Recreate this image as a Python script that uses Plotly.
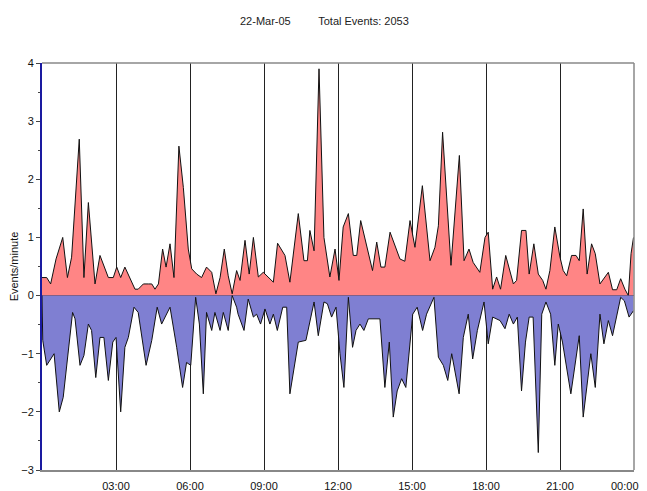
import plotly.graph_objects as go

# ---- data (hours since midnight, events/minute) ----
pos_hours = [0.0, 0.19, 0.35, 0.57, 0.84, 1.03, 1.20, 1.51, 1.70, 1.88, 2.15, 2.35, 2.69, 2.89,
             3.03, 3.19, 3.36, 3.57, 3.77, 3.90, 4.11, 4.31, 4.45, 4.58, 4.72, 4.89, 5.03, 5.19,
             5.35, 5.55, 5.73, 5.93, 6.07, 6.27, 6.47, 6.67, 6.88, 7.05, 7.22, 7.39, 7.55, 7.71,
             7.89, 8.03, 8.23, 8.40, 8.57, 8.77, 8.97, 9.38, 9.55, 9.85, 10.05, 10.39, 10.62,
             10.76, 10.86, 11.03, 11.23, 11.43, 11.67, 11.88, 12.04, 12.21, 12.42, 12.62, 12.76,
             12.92, 13.40, 13.57, 13.74, 13.90, 14.11, 14.51, 14.71, 14.92, 15.12, 15.42, 15.73,
             15.93, 16.07, 16.24, 16.58, 16.92, 17.11, 17.31, 17.48, 17.75, 17.96, 18.09, 18.27,
             18.43, 18.59, 18.80, 19.11, 19.24, 19.44, 19.62, 19.75, 19.94, 20.12, 20.30, 20.43,
             20.59, 20.79, 21.00, 21.13, 21.27, 21.47, 21.65, 21.78, 21.94, 22.10, 22.28, 22.43,
             22.62, 22.96, 23.13, 23.30, 23.46, 23.63, 23.77, 23.88, 23.98]
pos_values = [0.31, 0.31, 0.2, 0.63, 1.0, 0.31, 0.66, 2.69, 0.31, 1.6, 0.2, 0.69, 0.31, 0.31,
              0.49, 0.31, 0.49, 0.29, 0.11, 0.11, 0.2, 0.2, 0.2, 0.11, 0.2, 0.8, 0.49, 0.89,
              0.31, 2.57, 1.86, 0.8, 0.46, 0.37, 0.31, 0.49, 0.4, 0.03, 0.31, 0.8, 0.34, 0.03,
              0.43, 0.26, 0.95, 0.37, 1.0, 0.32, 0.40, 0.23, 0.9, 0.69, 0.23, 1.41, 0.60,
              0.6, 1.12, 0.77, 3.9, 1.0, 0.32, 0.8, 0.26, 1.18, 1.41, 0.69, 0.69,
              1.29, 0.43, 0.92, 0.49, 0.49, 1.09, 0.63, 0.59, 1.29, 0.83, 1.89, 0.60,
              0.83, 1.2, 2.81, 0.52, 2.41, 0.60, 0.80, 0.57, 0.40, 1.0, 1.09, 0.11,
              0.32, 0.11, 0.69, 0.20, 0.26, 1.12, 1.12, 0.37, 0.89, 0.37, 0.26, 0.11,
              0.43, 1.18, 0.66, 0.43, 0.34, 0.69, 0.69, 0.60, 1.49, 0.37, 0.89, 0.72,
              0.20, 0.40, 0.10, 0.10, 0.29, 0.11, 0.0, 0.72, 1.0]

neg_hours = [0.0, 0.03, 0.19, 0.49, 0.70, 0.86, 1.24, 1.34, 1.54, 1.70, 1.88, 2.01, 2.18, 2.35,
             2.51, 2.69, 2.87, 3.00, 3.19, 3.36, 3.50, 3.73, 3.90, 4.22, 4.45, 4.67, 4.85, 5.19,
             5.46, 5.70, 5.86, 6.03, 6.23, 6.38, 6.54, 6.67, 6.88, 7.01, 7.22, 7.35, 7.55, 7.71,
             7.89, 7.95, 8.19, 8.36, 8.57, 8.70, 8.86, 9.04, 9.24, 9.38, 9.54, 9.76, 9.92, 10.05,
             10.39, 10.70, 11.03, 11.20, 11.43, 11.57, 11.74, 11.92, 12.08, 12.24, 12.42, 12.59,
             12.73, 12.89, 13.05, 13.23, 13.70, 13.90, 14.08, 14.24, 14.40, 14.58, 14.75, 15.03,
             15.21, 15.43, 15.59, 15.89, 16.07, 16.27, 16.45, 16.61, 16.91, 17.08, 17.28, 17.46,
             17.65, 17.92, 18.09, 18.27, 18.57, 18.77, 18.94, 19.11, 19.27, 19.44, 19.60, 19.75,
             19.91, 20.08, 20.12, 20.26, 20.43, 20.62, 20.79, 20.93, 21.10, 21.44, 21.78, 21.94,
             22.25, 22.43, 22.62, 22.78, 22.96, 23.13, 23.46, 23.61, 23.80, 23.98]
neg_values = [0.0, -0.77, -1.2, -1.0, -2.0, -1.75, -0.29, -0.4, -1.2, -1.03, -0.49, -0.6, -1.41, -0.72,
              -0.72, -1.46, -0.80, -0.72, -2.0, -0.89, -0.72, -0.2, -0.29, -1.2, -0.77, -0.2, -0.49, -0.2,
              -0.89, -1.58, -1.15, -1.2, -0.03, -0.49, -1.69, -0.29, -0.6, -0.29, -0.6, -0.29, -0.6, 0.0,
              -0.2, -0.32, -0.6, -0.06, -0.37, -0.32, -0.49, -0.23, -0.49, -0.32, -0.6, -0.2, -0.2, -1.69,
              -0.80, -0.77, -0.11, -0.69, -0.11, -0.14, -0.37, -0.2, -1.0, -1.58, -0.03, -0.89,
              -0.6, -0.49, -0.6, -0.4, -0.4, -1.58, -0.80, -2.09, -1.64, -1.43, -1.58, -0.32,
              -0.2, -0.6, -0.32, -0.03, -1.06, -1.2, -1.46, -1.0, -1.69, -0.72, -0.32, -1.09,
              -0.6, -0.11, -0.83, -0.37, -0.43, -0.57, -0.32, -0.49, -0.37, -1.64, -0.8, -0.37,
              -0.37, -2.47, -2.7, -0.32, -0.11, -0.32, -1.2, -0.49, -0.8, -1.69, -0.69, -2.09,
              -1.0, -1.58, -0.32, -0.83, -0.43, -0.69, -0.03, -0.09, -0.37, -0.26]

tick_hours = [3, 6, 9, 12, 15, 18, 21, 24]
tick_labels = ["03:00", "06:00", "09:00", "12:00", "15:00", "18:00", "21:00", "00:00"]
y_ticks = [-3, -2, -1, 0, 1, 2, 3, 4]

FONT = "Liberation Sans, Arial, sans-serif"

fig = go.Figure()
fig.add_trace(go.Scatter(x=pos_hours, y=pos_values, mode="lines", fill="tozeroy",
                         fillcolor="#FF8585", line=dict(color="#111111", width=1),
                         hoverinfo="skip", showlegend=False))
fig.add_trace(go.Scatter(x=neg_hours, y=neg_values, mode="lines", fill="tozeroy",
                         fillcolor="#7F7FD2", line=dict(color="#111111", width=1),
                         hoverinfo="skip", showlegend=False))

# the last tick label sits at the very right edge: draw it right-anchored so it stays visible
axis_ticktext = tick_labels[:-1] + [""]

# page body has an 8px margin: figure is offset by (8, 8)
fig.update_layout(
    width=639, height=483,
    margin=dict(l=34, r=13, t=55, b=21),
    paper_bgcolor="white", plot_bgcolor="white",
    font=dict(family=FONT, size=11, color="#111111"),
    showlegend=False,
    annotations=[
        dict(text="22-Mar-05&nbsp;&nbsp;&nbsp;&nbsp;&nbsp;&nbsp;&nbsp;&nbsp;&nbsp;Total Events: 2053",
             xref="paper", yref="paper", x=(324 - 42) / 592, y=1 + 42 / 407,
             xanchor="center", yanchor="middle", showarrow=False,
             font=dict(family=FONT, size=11, color="#222222")),
        dict(text=tick_labels[-1], xref="paper", yref="paper",
             x=1 + 7 / 592, y=-16 / 407, xanchor="right", yanchor="middle",
             showarrow=False, font=dict(family=FONT, size=11, color="#111111")),
    ],
    shapes=[dict(type="line", xref="paper", yref="paper", x0=1, x1=1, y0=0, y1=1,
                 line=dict(color="#888888", width=1.5)),
            dict(type="line", xref="paper", yref="paper", x0=0, x1=1, y0=1, y1=1,
                 line=dict(color="#888888", width=1.5))],
)

fig.update_xaxes(range=[0, 24], tickmode="array", tickvals=tick_hours, ticktext=axis_ticktext,
                 showgrid=True, gridcolor="#222222", gridwidth=1,
                 showline=True, linecolor="#888888", linewidth=1.5,
                 ticks="", tickfont=dict(size=11), ticklabelstandoff=5,
                 zeroline=False, fixedrange=True, automargin=False)
fig.update_yaxes(range=[-3, 4], tickmode="array", tickvals=y_ticks,
                 showgrid=False, zeroline=True, zerolinecolor="#000000", zerolinewidth=1,
                 showline=True, linecolor="#1a1aa0", linewidth=2,
                 ticks="outside", ticklen=4, tickcolor="#444444",
                 minor=dict(ticks="outside", ticklen=2, dtick=0.5, tick0=0, tickcolor="#444444"),
                 tickfont=dict(size=11),
                 title=dict(text="Events/minute", font=dict(size=11), standoff=1),
                 fixedrange=True, automargin=False)

fig.write_html("out.html")
